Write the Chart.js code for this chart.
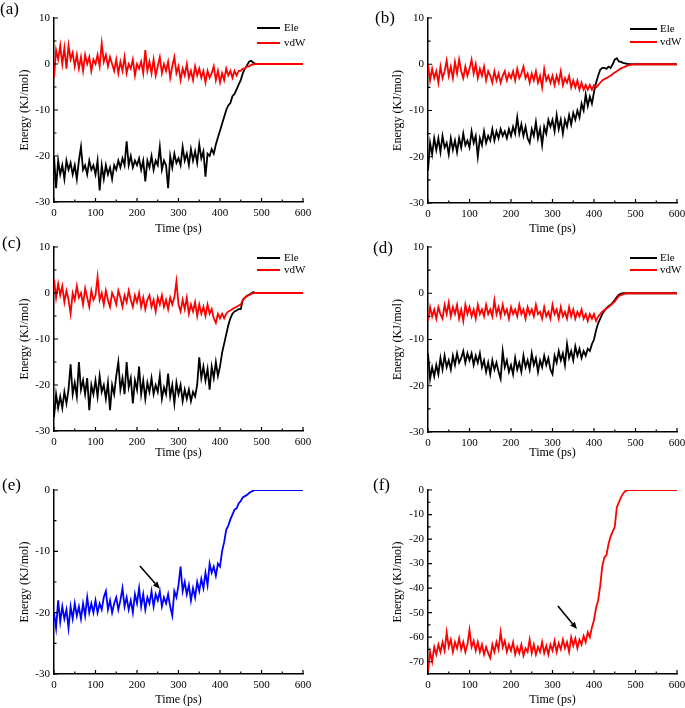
<!DOCTYPE html>
<html><head><meta charset="utf-8">
<script src="https://cdn.jsdelivr.net/npm/chart.js@4.4.0/dist/chart.umd.min.js"></script>
<style>
html,body{margin:0;padding:0;background:#fff;}
#wrap{position:relative;width:685px;height:708px;overflow:hidden;font-family:"Liberation Serif","Times New Roman",serif;}
#wrap canvas{position:absolute;}
.plabel{position:absolute;font-size:17px;line-height:17px;color:#000;white-space:nowrap;}
</style></head><body>
<div id="wrap">
<canvas id="ca" width="342" height="235" style="left:0;top:0"></canvas>
<canvas id="cb" width="343" height="235" style="left:342px;top:0"></canvas>
<canvas id="cc" width="342" height="235" style="left:0;top:235px"></canvas>
<canvas id="cd" width="343" height="235" style="left:342px;top:235px"></canvas>
<canvas id="ce" width="342" height="238" style="left:0;top:470px"></canvas>
<canvas id="cf" width="343" height="238" style="left:342px;top:470px"></canvas>
<div class="plabel" style="left:0;top:0">(a)</div>
<div class="plabel" style="left:375px;top:9px">(b)</div>
<div class="plabel" style="left:2px;top:234px">(c)</div>
<div class="plabel" style="left:373px;top:239px">(d)</div>
<div class="plabel" style="left:2px;top:476px">(e)</div>
<div class="plabel" style="left:373px;top:476px">(f)</div>
</div>
<script>
// ---------- data ----------
const time = [0,5,10,15,20,25,30,35,40,45,50,55,60,65,70,75,80,85,90,95,100,105,110,115,120,125,130,135,140,145,150,155,160,165,170,175,180,185,190,195,200,205,210,215,220,225,230,235,240,245,250,255,260,265,270,275,280,285,290,295,300,305,310,315,320,325,330,335,340,345,350,355,360,365,370,375,380,385,390,395,400,405,410,415,420,425,430,435,440,445,450,455,460,465,470,475,480,485,490,495,500,600];

const eleA = [-20,-27,-21,-24,-22,-25,-21,-23,-21.5,-24,
-22,-25,-21,-18,-23,-22,-24,-21,-23,-22,
-24,-21,-27.5,-22,-25,-22,-24,-22.5,-25,-22,
-23,-21,-22.5,-20.5,-22,-16.8,-22,-20,-22.5,-21,
-22,-20.5,-23,-21,-25.5,-21,-22.5,-20,-23,-21,
-22,-18,-23,-21,-22,-27,-20,-22.5,-19.5,-21.5,
-20.5,-22,-18,-21,-19.5,-22,-18.5,-21,-19,-21.5,
-17.5,-20.5,-19,-24.5,-19.5,-20,-18.5,-19.5,-17.5,-16,
-14.5,-13,-11.5,-10,-9,-8.5,-7,-6.5,-5.5,-4.5,
-3.5,-2,-1,-0.3,0.5,0.7,0.3,0.1,0,0,
0,0];
const vdwA = [-3,3,1,4,0,3.5,-1,4,1,2.5,
-0.5,2,-1,1.5,-1.5,2,0,1.5,-1.5,1,
0,2,-0.5,4.5,0.5,2,-0.5,1.5,0,-1.5,
1,-2,0.5,-1.5,1.5,-2,0,-1,1,-2.5,
0,-1,0.5,-2,3,-1.5,0.5,-2,1,-2.5,
-0.5,1.5,-2,0,-1.5,0.5,-3,-0.5,1.5,-2,
-0.5,-3.5,-1,-2.5,0,-3,-1.5,-3.5,-0.5,-2.5,
-1,-3,-1.5,-4,-1.5,-3,-2,-0.5,-3.5,-1.5,
-4,-2,-3.5,-1,-2.5,-1.5,-3,-1.5,-2.5,-1.5,
-1.5,-1,-1,-0.5,-0.5,-0.2,-0.1,0,0,0,
0,0];

const eleB = [-23,-17,-19.5,-16,-18.5,-16,-19,-15.5,-18,-17,
-19.5,-16,-18.5,-16.5,-19,-16,-18,-15,-17.5,-16.5,
-18,-14.5,-17,-15.5,-20,-16,-17.5,-14.5,-17,-15.5,
-16.5,-14,-16.5,-14.5,-16,-14,-15.5,-14.5,-16,-14,
-15.5,-13.5,-15,-11.5,-15,-13,-15.5,-13.5,-16,-17,
-14,-15.5,-12.5,-16,-14,-17.5,-13.5,-15,-12,-13.5,
-12,-14.5,-11,-14,-12,-15,-12,-13.5,-11,-13,
-10.5,-12,-10,-11.5,-8.5,-10,-6.5,-9,-7,-8.5,
-6,-4,-2.5,-1.2,-0.8,-0.8,-1,-0.5,-0.8,0,
1,1.3,0.6,0.5,0.3,0.2,0.1,0,0,0,
0,0];
const vdwB = [0,-3.5,-1,-3,-1.5,-4,-0.5,-3,-1.5,0.8,
-2.5,-0.5,-3,0.5,-2,1,-1.5,-3,-0.5,-2.5,
-1,1,-2,0,-3,-1,-2.5,-0.5,-3.5,-1.5,
-2.5,-4,-1.5,-3.5,-2,-4,-2.5,-1.5,-3.5,-2,
-3,-1.5,-3.5,-1,-3,-2,-0.5,-3,-2,-4,
-2,-3.5,-1.5,-4,-2.5,-5,-1,-3.5,-2.5,-4,
-2.5,-4.5,-2.5,-4,-1.5,-4.5,-3,-4,-2.5,-5,
-3.5,-5,-3.5,-5.5,-4,-5.5,-4.5,-5.5,-4.5,-5.5,
-4.5,-5,-4.5,-4,-3.5,-3.2,-3,-2.7,-2.5,-2.1,
-1.8,-1.5,-1.2,-0.9,-0.7,-0.5,-0.3,-0.2,-0.1,0,
0,0];

const eleC = [-27,-22,-25,-22.5,-25,-21.5,-24,-21,-15.5,-22,
-19.5,-22.5,-15,-21,-19,-22,-18.5,-25.5,-20,-22,
-19,-22.5,-18,-21.5,-20,-23,-19.5,-25.5,-20,-22,
-18,-15,-21,-18.5,-22,-15,-20.5,-18.5,-24,-19,
-21,-16,-22,-19,-23,-19.5,-21.5,-18.5,-22,-20,
-21.5,-18,-23,-20.5,-22,-17.5,-22.5,-20,-24,-19.5,
-22,-20,-23.5,-21,-23,-21,-23.5,-21.5,-22.5,-20,
-14,-18.5,-16,-19,-16.5,-21,-16,-18.5,-15,-18,
-16,-13,-11,-9,-7,-5.5,-4.5,-4,-3.8,-3.5,
-3.5,-1.5,-1,-0.6,-0.4,-0.1,0.2,0,0,0,
0,0];
const vdwC = [3,-1,2,-0.5,1.5,-2,0.5,-1.5,-4.5,0,
-1.5,1.5,-1,0,-2.5,1,-1,-3,0.5,-1.5,
-0.5,3.5,-1.5,0,-2.5,0.5,-1.5,-3,0,-1,
-2.5,0.5,-1,-3,-0.5,-2,0.5,-1.5,-3,-0.5,
-2,0,-3,-1,-3.5,-1.5,-0.5,-3,-1.5,-4,
-1,-2.5,-0.5,-3,-1.5,-3.5,-1,-2.5,-1,2.5,
-2.5,-4,-1.5,-3.5,-1,-4.5,-2.5,-4,-2,-5,
-2.5,-4.5,-3,-5,-2.5,-4.5,-3.5,-5.5,-6.5,-4.5,
-5.5,-4.5,-5.5,-4.5,-4,-3.8,-3.5,-3.2,-3,-2.7,
-2.5,-1.5,-1,-0.7,-0.5,-0.2,0,0,0,0,
0,0];

const eleD = [-13,-18.5,-16,-18,-15.5,-17.5,-14,-16.5,-13.5,-16,
-14.5,-16.5,-13.5,-15.5,-13,-15,-14,-12.5,-15,-13,
-14.5,-13,-15.5,-13.5,-15,-13,-16,-14.5,-17,-15,
-17.5,-14.5,-16.5,-15,-17,-18.5,-12.5,-16,-14.5,-17,
-15.5,-17.5,-14,-16.5,-15,-17,-13.5,-16,-14.5,-16.5,
-13,-15.5,-14,-17,-14.5,-16,-13.5,-15.5,-14,-16.5,
-17.5,-13.5,-15,-12.5,-14.5,-13,-15.5,-11,-14,-12.5,
-14.5,-11.5,-13.5,-12,-14,-12.5,-13.5,-12,-12.5,-11,
-10,-8,-6.5,-5.5,-4.5,-3.8,-3.2,-2.8,-2.5,-2,
-1.5,-0.8,-0.3,-0.1,0,0,0,0,0,0,
0,0];
const vdwD = [-6,-3,-5,-3.5,-5.5,-3,-4.5,-5.5,-2.5,-4.5,
-2,-5,-3,-4.5,-2.5,-5.5,-3.5,-6,-2.5,-4.5,
-3,-5,-3.5,-5.5,-2.5,-4.5,-3.5,-5,-2.5,-4.5,
-3.5,-5,-1.5,-4.5,-3,-5,-2.5,-4.5,-3.5,-5.5,
-3,-4.5,-3.5,-5,-2.5,-4.5,-3.5,-5.5,-3,-4.5,
-3.5,-5,-2.5,-4.5,-4,-5.5,-3,-5,-4,-5.5,
-2.5,-4.5,-3.5,-5.5,-3,-5,-4,-5.5,-3,-5,
-3.5,-5.5,-4,-5,-3.5,-5.5,-4.5,-6,-4.5,-5.5,
-4.5,-6,-5,-4.5,-4,-3.6,-3.3,-3,-2.6,-2.2,
-1.8,-1.2,-0.6,-0.4,-0.2,-0.1,0,0,0,0,
0,0];

const energyE = [-20,-22.5,-18,-21.5,-19,-21,-19.5,-22.5,-19,-21,
-18.5,-20.5,-19,-21,-18.5,-20.5,-17.5,-20,-18.5,-20,
-18,-20,-18.5,-19.5,-17.5,-16.5,-19.5,-18,-20,-18.5,
-17.5,-19.5,-18,-16,-19,-17.5,-19.5,-18,-20,-17,
-18.5,-16,-19,-17,-19.5,-17.5,-18.5,-16.5,-19,-17,
-18,-16.5,-19,-17.5,-18.5,-17,-19,-20.5,-16.5,-17.5,
-15.5,-12.5,-16.5,-15,-17,-15.5,-18,-16,-17.5,-15,
-16.5,-14.5,-16,-13.5,-15.5,-12,-13.5,-12.5,-14,-12,
-12.5,-10,-8.5,-6.5,-5.8,-4.8,-4,-3.2,-3,-2.2,
-1.8,-1.2,-1,-0.8,-0.5,-0.3,-0.1,0,0,0,
0,0];

const energyF = [-74,-66,-70,-64,-67,-63,-66,-62,-65.5,-58,
-64,-61,-66,-62,-64.5,-60.5,-65,-62,-66,-63,
-57,-64,-61.5,-65.5,-62,-66,-63,-67,-64,-66.5,
-68.5,-63,-66,-62,-65,-58,-64,-61.5,-66,-63,
-65.5,-62,-67,-64,-66.5,-63,-67.5,-64.5,-66,-61,
-66.5,-63,-67,-64,-66,-62,-66.5,-63.5,-67,-63,
-65.5,-61.5,-66,-62.5,-65,-61,-64.5,-62,-66,-60,
-63.5,-60.5,-64.5,-61,-63,-59.5,-62,-58,-60,-56,
-53,-48,-45,-39,-31,-27.5,-26.5,-22,-19,-17,
-15,-7,-5,-3,-1.5,-0.5,-0.1,0,0,0,
0,0];

const seriesNames = ['Ele','vdW'];
const xTicks = [0,100,200,300,400,500,600];
const yTicksMain = [-30,-20,-10,0,10];
const yTicksE = [-30,-20,-10,0];
const yTicksF = [-70,-60,-50,-40,-30,-20,-10,0];
const arrowE = [207,-12.4,255,-16.1];
const arrowF = [313,-47.3,359,-56.7];

// ---------- drawing ----------
const FONT = '"Liberation Serif","Times New Roman",serif';
Chart.defaults.font.family = FONT;
Chart.defaults.color = '#000';

function pts(arr){ return arr.map((v,i)=>({x:time[i], y:v})); }
function mids(t){ const m=[]; for(let i=0;i<t.length-1;i++) m.push((t[i]+t[i+1])/2); return m; }

const decor = {
  id:'decor',
  afterDraw(chart, args, o){
    const ctx = chart.ctx, xs = chart.scales.x, ys = chart.scales.y, a = chart.chartArea;
    ctx.save();
    ctx.strokeStyle = '#000'; ctx.lineWidth = 1.2;
    ctx.beginPath();
    o.xTicks.forEach(v=>{const p=xs.getPixelForValue(v); ctx.moveTo(p,a.bottom); ctx.lineTo(p,a.bottom-4);});
    mids(o.xTicks).forEach(v=>{const p=xs.getPixelForValue(v); ctx.moveTo(p,a.bottom); ctx.lineTo(p,a.bottom-2.5);});
    o.yTicks.forEach(v=>{const p=ys.getPixelForValue(v); ctx.moveTo(a.left,p); ctx.lineTo(a.left+4,p);});
    mids(o.yTicks).forEach(v=>{const p=ys.getPixelForValue(v); ctx.moveTo(a.left,p); ctx.lineTo(a.left+2.5,p);});
    ctx.stroke();
    if (o.legend){
      const L = o.legend;
      ctx.font = '11px ' + FONT; ctx.textBaseline = 'middle'; ctx.textAlign = 'left';
      chart.data.datasets.forEach((ds,i)=>{
        ctx.strokeStyle = ds.borderColor; ctx.lineWidth = 2;
        ctx.beginPath(); ctx.moveTo(L.x1, L.ys[i]); ctx.lineTo(L.x2, L.ys[i]); ctx.stroke();
        ctx.fillStyle = '#000'; ctx.fillText(ds.label, L.tx, L.ys[i]);
      });
    }
    if (o.arrow){
      const [x0,y0,x1,y1] = o.arrow;
      const px0=xs.getPixelForValue(x0), py0=ys.getPixelForValue(y0);
      const px1=xs.getPixelForValue(x1), py1=ys.getPixelForValue(y1);
      const ang = Math.atan2(py1-py0, px1-px0), hl = 7, hw = 3;
      const bx = px1 - hl*Math.cos(ang), by = py1 - hl*Math.sin(ang);
      ctx.strokeStyle='#000'; ctx.fillStyle='#000'; ctx.lineWidth=1.6;
      ctx.beginPath(); ctx.moveTo(px0,py0); ctx.lineTo(bx,by); ctx.stroke();
      ctx.beginPath(); ctx.moveTo(px1,py1);
      ctx.lineTo(bx + hw*Math.sin(ang), by - hw*Math.cos(ang));
      ctx.lineTo(bx - hw*Math.sin(ang), by + hw*Math.cos(ang));
      ctx.closePath(); ctx.fill();
    }
    ctx.restore();
  }
};

function makeChart(cfg){
  const canvas = document.getElementById(cfg.id);
  const W = canvas.width, H = canvas.height;
  const A = cfg.area;
  const datasets = cfg.series.map((s,i)=>({
    label: s.label, data: pts(s.values), borderColor: s.color, borderWidth: 1.8,
    pointRadius: 0, tension: 0, fill: false, order: s.order
  }));
  return new Chart(canvas, {
    type: 'line',
    data: { datasets },
    options: {
      responsive: false, animation: false, events: [],
      layout: { padding: { left: A.l - 54, top: A.t, right: W - A.r, bottom: 0 } },
      plugins: { legend: {display:false}, tooltip: {enabled:false},
        decor: { xTicks: xTicks, yTicks: cfg.yTicks, legend: cfg.legend, arrow: cfg.arrow } },
      scales: {
        x: {
          type: 'linear', min: 0, max: 600,
          afterBuildTicks: s => { s.ticks = xTicks.map(v=>({value:v})); },
          afterFit: s => { s.height = H - A.b; s.paddingLeft = 0; s.paddingRight = 0; },
          grid: { display:false, drawTicks:false },
          border: { display:true, color:'#000', width:1.5 },
          ticks: { padding: 5, font: { size: 11 }, color:'#000', autoSkip:false, maxRotation:0 },
          title: { display:true, text:'Time (ps)', font:{ size: 12, lineHeight: 1 }, color:'#000',
                   padding: { top:0, bottom: cfg.xtPad } }
        },
        y: {
          type: 'linear', min: cfg.ymin, max: cfg.ymax,
          afterBuildTicks: s => { s.ticks = cfg.yTicks.map(v=>({value:v})); },
          afterFit: s => { s.width = 54; s.paddingTop = 0; s.paddingBottom = 0; },
          grid: { display:false, drawTicks:false },
          border: { display:true, color:'#000', width:1.5 },
          ticks: { padding: 4, font: { size: 11 }, color:'#000', autoSkip:false },
          title: { display:true, text:'Energy (KJ/mol)', font:{ size: 12, lineHeight: 1 }, color:'#000',
                   padding: { top: cfg.ytPad, bottom:0 } }
        }
      }
    },
    plugins: [decor]
  });
}

const LEGL = {x1:257, x2:280, tx:284};
const LEGR = {x1:288, x2:315, tx:318};

makeChart({ id:'ca', area:{l:54,t:18,r:303,b:202}, ymin:-30, ymax:10, yTicks:yTicksMain, xtPad:0, ytPad:19,
  series:[{label:seriesNames[0], values:eleA, color:'#000000', order:1},{label:seriesNames[1], values:vdwA, color:'#ff0000', order:0}],
  legend:{...LEGL, ys:[28,43]} });
makeChart({ id:'cb', area:{l:86,t:18,r:335,b:203}, ymin:-30, ymax:10, yTicks:yTicksMain, xtPad:0, ytPad:18,
  series:[{label:seriesNames[0], values:eleB, color:'#000000', order:1},{label:seriesNames[1], values:vdwB, color:'#ff0000', order:0}],
  legend:{...LEGR, ys:[29,42]} });
makeChart({ id:'cc', area:{l:54,t:12,r:303,b:196}, ymin:-30, ymax:10, yTicks:yTicksMain, xtPad:11, ytPad:19,
  series:[{label:seriesNames[0], values:eleC, color:'#000000', order:1},{label:seriesNames[1], values:vdwC, color:'#ff0000', order:0}],
  legend:{...LEGL, ys:[23,35]} });
makeChart({ id:'cd', area:{l:86,t:12,r:335,b:197}, ymin:-30, ymax:10, yTicks:yTicksMain, xtPad:11, ytPad:18,
  series:[{label:seriesNames[0], values:eleD, color:'#000000', order:1},{label:seriesNames[1], values:vdwD, color:'#ff0000', order:0}],
  legend:{...LEGR, ys:[23,35]} });
makeChart({ id:'ce', area:{l:54,t:20,r:303,b:204}, ymin:-30, ymax:0, yTicks:yTicksE, xtPad:2, ytPad:19,
  series:[{label:'Energy', values:energyE, color:'#0000ff', order:0}], arrow: arrowE });
makeChart({ id:'cf', area:{l:86,t:20,r:335,b:204}, ymin:-75, ymax:0, yTicks:yTicksF, xtPad:2, ytPad:18,
  series:[{label:'Energy', values:energyF, color:'#ff0000', order:0}], arrow: arrowF });
</script>
</body></html>
